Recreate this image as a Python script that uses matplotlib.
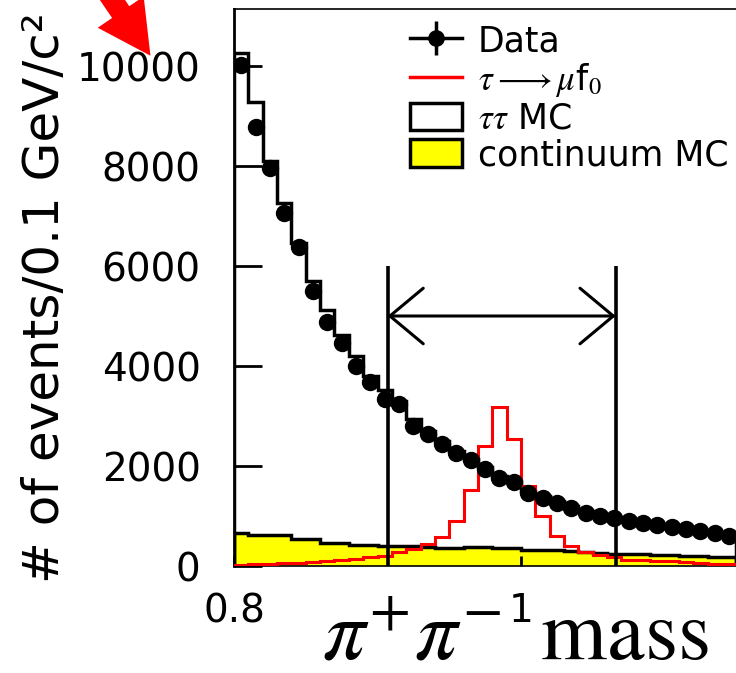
import numpy as np
import matplotlib
matplotlib.use("Agg")
import matplotlib.pyplot as plt
from matplotlib.lines import Line2D
from matplotlib.patches import Patch

plt.rcParams['font.family'] = ['DejaVu Sans']
plt.rcParams['mathtext.fontset'] = 'stix'

# histogram binning (GeV/c^2)
bin_lo = 0.80
bin_width = 0.01

# data points per bin
data = [10020, 8780, 7960, 7060, 6380, 5500, 4880, 4460, 4000, 3680,
        3340, 3250, 2800, 2650, 2450, 2260, 2120, 1940, 1760, 1680,
        1460, 1360, 1260, 1160, 1060, 1010, 970, 900, 870, 820,
        790, 740, 700, 660, 600]
# tau tau MC (total)
tautau_mc = [10260, 9280, 8100, 7260, 6460, 5700, 5120, 4620, 4200, 3800,
             3520, 3300, 2940, 2700, 2500, 2300, 2150, 1980, 1800, 1700,
             1500, 1400, 1300, 1200, 1100, 1030, 980, 920, 880, 830,
             790, 750, 710, 670, 620]
# continuum MC
continuum_mc = [660, 630, 630, 620, 550, 540, 470, 460, 430, 420,
                410, 400, 410, 380, 370, 370, 380, 390, 370, 360,
                330, 320, 320, 310, 280, 270, 250, 240, 240, 230,
                220, 200, 200, 190, 180]
# tau -> mu f0 signal
signal = [30, 40, 50, 60, 70, 90, 100, 120, 140, 180,
          210, 290, 350, 450, 590, 900, 1520, 2400, 3180, 2540,
          1600, 1000, 600, 400, 280, 220, 180, 130, 120, 100,
          100, 90, 60, 50, 40]

# mass window
cut_lo, cut_hi = 0.907, 1.066
cut_top, arrow_y = 6000, 5000

edges = bin_lo + bin_width * np.arange(len(data) + 1)
centers = 0.5 * (edges[:-1] + edges[1:])

fig = plt.figure(figsize=(7.36, 6.73), dpi=100)
ax = fig.add_axes([234/736, 107/673, 502/736, 557/673])

ax.stairs(continuum_mc, edges, fill=True, color='yellow', zorder=1)
ax.stairs(continuum_mc, edges, color='k', lw=2.5, zorder=2)
ax.stairs(tautau_mc, edges, color='k', lw=2.5, zorder=2)
ax.stairs(signal, edges, color='red', lw=2.2, zorder=3)
ax.errorbar(centers, data, yerr=np.sqrt(data), fmt='o', color='k',
            ms=11.5, elinewidth=2, zorder=4)

# selection window
ax.vlines([cut_lo, cut_hi], 0, cut_top, color='k', lw=2.6, zorder=5)
ax.annotate('', xy=(cut_hi, arrow_y), xytext=(cut_lo, arrow_y),
            arrowprops=dict(arrowstyle='<->,head_length=24,head_width=20',
                            mutation_scale=1, lw=2.2, color='k',
                            shrinkA=0, shrinkB=0), zorder=5)

ax.set_xlim(0.8, 0.8 + 502/1435)
ax.set_ylim(0, 11140)
ax.set_xticks([0.8, 1.0])
ax.set_xticklabels(['0.8', '1'])
ax.set_yticks([0, 2000, 4000, 6000, 8000, 10000])
ax.tick_params(axis='y', direction='in', length=20, width=2, labelsize=28, pad=24)
ax.tick_params(axis='x', direction='in', length=7, width=2, labelsize=28, pad=19)
ax.spines['right'].set_visible(False)
ax.spines['left'].set_linewidth(2)
ax.spines['top'].set_linewidth(1.2)
ax.spines['bottom'].set_linewidth(1.2)

fig.text(45/736, 1 - 298/673, '# of events/0.1 GeV/c²', rotation=90,
         ha='center', va='center', fontsize=36)
fig.text(515/736, 1 - 636/673, r'$\pi^{+}\pi^{-}\;\;\mathrm{mass}$',
         ha='center', va='center', fontsize=61)

# red pointer arrow at the top-left
ax.annotate('', xy=(152, 673 - 58), xycoords='figure pixels',
            xytext=(92, 673 + 30), textcoords='figure pixels',
            arrowprops=dict(arrowstyle='simple,head_length=38,head_width=40,tail_width=15',
                            mutation_scale=1, color='red', lw=0),
            annotation_clip=False)

handles = [
    (Line2D([], [], color='k', lw=2.5, marker='o', ms=11),
     Line2D([], [], color='k', lw=0, marker='|', ms=24, mew=2.5)),
    Line2D([], [], color='red', lw=2.5),
    Patch(facecolor='white', edgecolor='k', lw=2.5),
    Patch(facecolor='yellow', edgecolor='k', lw=2.5),
]
labels = ['Data', r'$\tau \longrightarrow \mu$f$_0$', r'$\tau\tau$ MC', 'continuum MC']
fig.legend(handles, labels, loc='upper left', bbox_to_anchor=(410/736, 1 - 24/673),
           frameon=False, fontsize=25, handlelength=1.5, handleheight=0.85,
           handletextpad=0.45, labelspacing=0.08, borderpad=0, borderaxespad=0)

fig.savefig('out.png', dpi=100)
